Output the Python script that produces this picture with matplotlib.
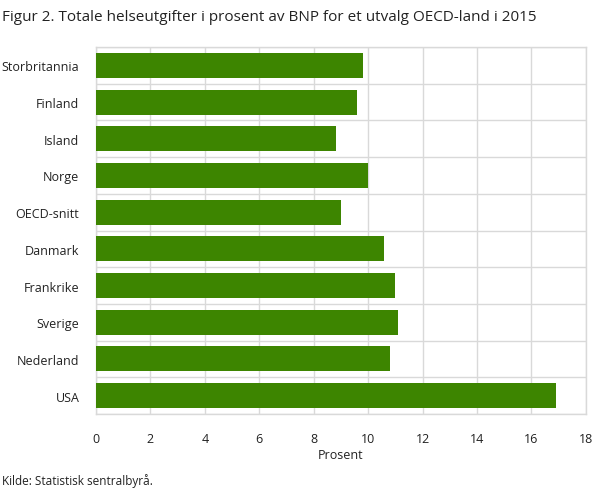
import matplotlib
matplotlib.use("Agg")
import matplotlib.pyplot as plt
import numpy as np

plt.rcParams['font.family'] = ['Open Sans', 'DejaVu Sans']

countries = ['Storbritannia', 'Finland', 'Island', 'Norge', 'OECD-snitt',
             'Danmark', 'Frankrike', 'Sverige', 'Nederland', 'USA']
prosent = [9.8, 9.6, 8.8, 10.0, 9.0, 10.6, 11.0, 11.1, 10.8, 16.9]
x_ticks = [0, 2, 4, 6, 8, 10, 12, 14, 16, 18]

bar_color = '#3d8500'
grid_color = '#d9d9d9'
text_color = '#222222'

fig = plt.figure(figsize=(6.09, 4.89), dpi=100)
ax = fig.add_axes([0.1576, 0.1513, 0.8045, 0.7505])

y = np.arange(len(countries))
ax.barh(y, prosent, height=0.68, color=bar_color, zorder=3)

ax.set_ylim(len(countries) - 0.5, -0.5)
ax.set_xlim(0, 18)
ax.set_xticks(x_ticks)
ax.set_yticks(y)
ax.set_yticklabels(countries)

# gridlines between categories and at the x ticks
for b in np.arange(-0.5, len(countries), 1.0):
    ax.axhline(b, color=grid_color, lw=1, zorder=1)
for t in x_ticks:
    ax.axvline(t, color=grid_color, lw=1, zorder=1)

for s in ax.spines.values():
    s.set_color(grid_color)
    s.set_linewidth(1)

ax.tick_params(axis='both', length=0, labelsize=9, colors=text_color)
ax.tick_params(axis='x', pad=13)
ax.tick_params(axis='y', pad=12)
ax.set_xlabel('Prosent', fontsize=9, color=text_color, labelpad=2)

fig.text(0.004, 0.965, 'Figur 2. Totale helseutgifter i prosent av BNP for et utvalg OECD-land i 2015',
         fontsize=11, color=text_color, va='center', ha='left')
fig.text(0.004, 0.003, 'Kilde: Statistisk sentralbyrå.', fontsize=8.5,
         color=text_color, va='bottom', ha='left')

fig.savefig('out.png', dpi=100)
